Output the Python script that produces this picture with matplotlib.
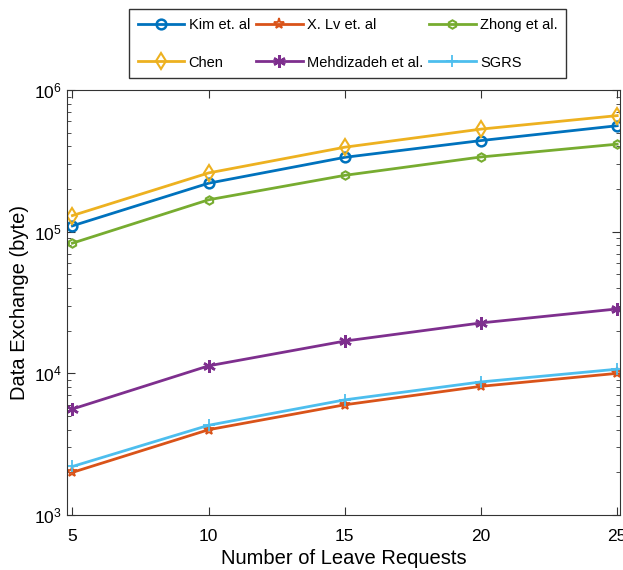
import numpy as np
import matplotlib.pyplot as plt
from matplotlib.ticker import LogLocator, NullFormatter

plt.rcParams['font.family'] = ['Liberation Sans', 'DejaVu Sans']

requests = [5, 10, 15, 20, 25]
kim = [1.1e5, 2.2e5, 3.35e5, 4.4e5, 5.6e5]
xlv = [2.0e3, 4.0e3, 6.0e3, 8.1e3, 1.0e4]
zhong = [8.3e4, 1.68e5, 2.5e5, 3.37e5, 4.15e5]
chen = [1.3e5, 2.6e5, 3.95e5, 5.3e5, 6.6e5]
mehdi = [5.6e3, 1.13e4, 1.69e4, 2.27e4, 2.85e4]
sgrs = [2.2e3, 4.3e3, 6.5e3, 8.7e3, 1.07e4]

fig = plt.figure(figsize=(6.23, 5.70), dpi=100)
ax = fig.add_axes([0.1075, 0.0965, 0.8875, 0.7455])

lw = 2
h_kim, = ax.plot(requests, kim, color='#0072BD', marker='o', mfc='none', ms=7, mew=1.8, lw=lw, label='Kim et. al')
h_xlv, = ax.plot(requests, xlv, color='#D95319', marker='*', mfc='none', ms=8, mew=1.3, lw=lw, label='X. Lv et. al')
h_zh, = ax.plot(requests, zhong, color='#77AC30', marker='h', mfc='none', ms=6, mew=1.5, lw=lw, label='Zhong et al.')
h_ch, = ax.plot(requests, chen, color='#EDB120', marker='d', mfc='none', ms=8, mew=1.5, lw=lw, label='Chen')
h_me, = ax.plot(requests, mehdi, color='#7E2F8E', marker=(6, 2, 0), ms=9, mew=1.8, lw=lw, label='Mehdizadeh et al.')
h_sg, = ax.plot(requests, sgrs, color='#4DBEEE', marker='+', ms=9, mew=1.3, lw=lw, label='SGRS')

ax.set_yscale('log')
ax.set_ylim(1e3, 1e6)
ax.set_xlim(4.8, 25.1)
ax.set_xticks(requests)
ax.yaxis.set_minor_locator(LogLocator(base=10, subs=np.arange(2, 10)))
ax.yaxis.set_minor_formatter(NullFormatter())
ax.tick_params(which='both', direction='in', top=True, right=True, labelsize=12.5, color='#333333')
ax.tick_params(axis='x', pad=10)
ax.tick_params(which='major', length=6)
ax.tick_params(which='minor', length=3)
for s in ax.spines.values():
    s.set_color('#333333')

ax.set_xlabel('Number of Leave Requests', fontsize=14.5, labelpad=4)
ax.set_ylabel('Data Exchange (byte)', fontsize=14.5)

handles = [h_kim, h_ch, h_xlv, h_me, h_zh, h_sg]
fig.legend(handles=handles, labels=[h.get_label() for h in handles], ncol=3,
           loc='center', bbox_to_anchor=(0.558, 0.923), fontsize=10.5,
           frameon=True, fancybox=False, edgecolor='black', handlelength=3.2,
           columnspacing=0.4, handletextpad=0.3, borderpad=0.6, labelspacing=1.6,
           borderaxespad=0.3)

fig.savefig('out.png', dpi=100)
